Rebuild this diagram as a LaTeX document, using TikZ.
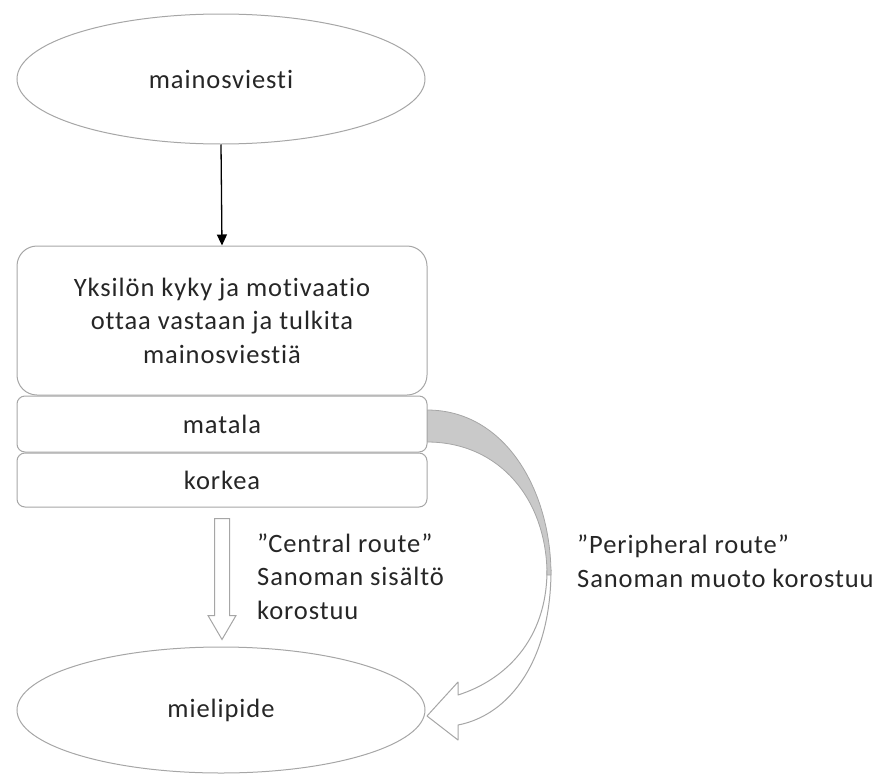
\documentclass[tikz,border=0pt]{standalone}
\usepackage{fontspec}
\setmainfont{Carlito}[Ligatures=NoCommon, LetterSpace=3.5]
\usetikzlibrary{shapes.geometric,arrows.meta,calc}
\definecolor{edge}{HTML}{A6A6A6}
\definecolor{backface}{HTML}{C9C9C9}
\definecolor{ink}{HTML}{262626}
\begin{document}
\begin{tikzpicture}[x=1pt,y=-1pt,
  lbl/.style={font=\fontsize{26.5pt}{33.5pt}\selectfont, text=ink},
  oval/.style={ellipse, draw=edge, line width=1pt, fill=white,
    minimum width=408pt, minimum height=130pt, inner sep=0pt, lbl},
  bigbox/.style={rectangle, rounded corners=20pt, draw=edge, line width=1pt,
    fill=white, minimum width=410pt, minimum height=149pt, inner sep=0pt,
    align=center, lbl},
  levelbox/.style={rectangle, rounded corners=8pt, draw=edge, line width=1pt,
    fill=white, minimum width=410pt, inner sep=0pt, lbl},
  note/.style={lbl, align=left, inner sep=0pt, anchor=base west},
  hollow/.style={draw=edge, line width=1pt, fill=white, line join=miter},
]
\useasboundingbox (0,0) rectangle (878,774);

% curved "peripheral" arrow, drawn first so the boxes sit on top of its tail
\coordinate (ptail) at (427,424);
\begin{scope}[shift={(ptail)}]
  % visible front of the curved shaft with its head
  \draw[hollow, line join=round]
    (124,146) .. controls (124,236) and (83,291) .. (31,301)
    -- (31,316) -- (0,292) -- (31,258) -- (31,271)
    .. controls (78,256) and (120,216) .. (120,146) -- cycle;
  % shaded back face of the curl
  \draw[draw=edge, fill=backface, line width=0.8pt]
    (0,-14) .. controls (78,-14) and (124,66) .. (124,151)
    -- (120,151) .. controls (120,76) and (73,18) .. (0,18) -- cycle;
\end{scope}

\node[oval] (viesti) at (221,79) {mainosviesti};
\node[bigbox] (kyky) at (222,320.5)
  {Yksilön kyky ja motivaatio\\ottaa vastaan ja tulkita\\mainosviestiä};
\node[levelbox, minimum height=56pt] (matala) at (222,424) {matala};
\node[levelbox, minimum height=54pt] (korkea) at (222,480) {korkea};
\node[oval, minimum height=126pt] (mielipide) at (221,710) {mielipide};

% message into the individual
\draw[line width=1.3pt, draw=black, -{Triangle[width=10pt,length=11pt]}]
  (viesti.south) -- (kyky.north);

% hollow "central" block arrow
\begin{scope}[shift={(korkea.south)}]
  \draw[hollow] (-7.5,11) -- (7.5,11) -- (7.5,108) -- (14,108) -- (0,132)
    -- (-14,108) -- (-7.5,108) -- cycle;
\end{scope}

% route labels, placed by the baseline of their last line
\node[note] (central) at (257,619)
  {”Central route”\\Sanoman sisältö\\korostuu};
\node[note] (peripheral) at (577,587)
  {”Peripheral route”\\Sanoman muoto korostuu};
\end{tikzpicture}
\end{document}
